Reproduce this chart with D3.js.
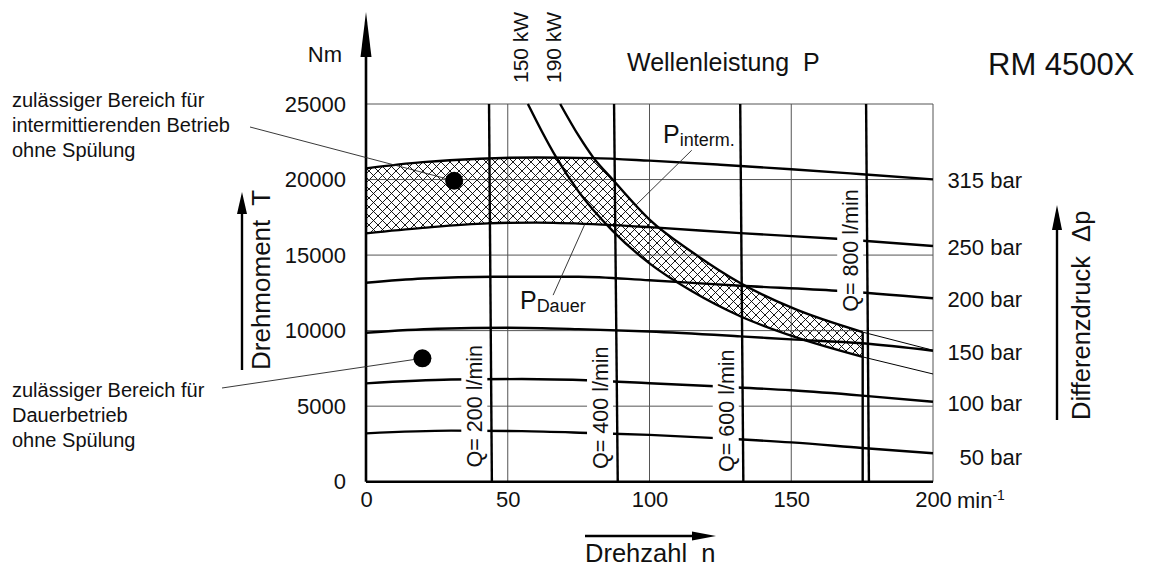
<!DOCTYPE html>
<html>
<head>
<meta charset="utf-8">
<script src="https://cdnjs.cloudflare.com/ajax/libs/d3/7.8.5/d3.min.js"></script>
<style>
  body { margin: 0; background: #fff; }
  text { font-family: "Liberation Sans", Arial, sans-serif; fill: #111; }
</style>
</head>
<body>
<script>
// axis ticks
var nTicks = [0, 50, 100, 150, 200];
var tTicks = [0, 5000, 10000, 15000, 20000, 25000];

// pressure lines, [n (1/min), T (Nm)]
var bar315 = [[0,20740],[20,21150],[40,21380],[60,21460],[80,21420],[100,21250],[125,20980],[150,20680],[175,20350],[200,20010]];
var bar250 = [[0,16440],[20,16800],[43,17100],[60,17150],[80,17050],[100,16850],[132,16450],[166,16080],[200,15600]];
var bar200 = [[0,13170],[20,13450],[45,13570],[75,13570],[100,13330],[132,12970],[166,12640],[200,12140]];
var bar150 = [[0,9860],[25,10120],[50,10190],[75,10100],[100,9940],[132,9620],[150,9420],[175,9160],[200,8670]];
var bar100 = [[0,6510],[30,6760],[55,6800],[80,6700],[100,6520],[125,6300],[150,6050],[175,5700],[200,5290]];
var bar50  = [[0,3200],[30,3380],[55,3350],[80,3220],[100,3100],[125,2870],[150,2600],[175,2230],[200,1880]];
var barLines = [bar315, bar250, bar200, bar150, bar100, bar50];
var barNames = ["315 bar", "250 bar", "200 bar", "150 bar", "100 bar", "50 bar"];

// shaft power curves
var pDauer  = [[57.1,25000],[62,23200],[67,21500],[75,19200],[87,16600],[100,14450],[115,12600],[132,10950],[151,9600],[175.2,8260],[200,7130]];
var pInterm = [[68.5,25000],[75,22900],[80,21500],[87,20000],[100,17350],[115,15200],[132,13150],[151,11450],[175.2,9900],[200,8700]];
var nLimit = 175.2;

// flow lines: n at T = 25000 and at T = 0
var qNames  = ["Q= 200 l/min", "Q= 400 l/min", "Q= 600 l/min", "Q= 800 l/min"];
var qTop    = [43.4, 87.5, 132.0, 176.4];
var qBottom = [44.4, 88.8, 133.1, 177.4];
var qLabelT = [5000, 4900, 4700, 15300];

// marked operating points
var dotN = [31.1, 19.9];
var dotT = [19920, 8170];

var width = 1163, height = 568;

var svg = d3.select('body').append('svg')
  .attr('width', width)
  .attr('height', height);

var x = d3.scaleLinear().domain([0, 200]).range([366, 933]);
var y = d3.scaleLinear().domain([0, 25000]).range([481.7, 104]);

var line = d3.line()
  .x(function(d) { return x(d[0]); })
  .y(function(d) { return y(d[1]); })
  .curve(d3.curveMonotoneX);

var area = d3.area()
  .x(function(d) { return x(d[0]); })
  .y0(y(0))
  .y1(function(d) { return y(d[1]); })
  .curve(d3.curveMonotoneX);

var defs = svg.append('defs');

// cross hatch
var pat = defs.append('pattern')
  .attr('id', 'hatch')
  .attr('patternUnits', 'userSpaceOnUse')
  .attr('width', 9).attr('height', 9);
pat.append('rect').attr('width', 9).attr('height', 9).attr('fill', '#fff');
pat.append('path')
  .attr('d', 'M-1,-1L10,10M10,-1L-1,10')
  .attr('stroke', '#000').attr('stroke-width', 0.9);

// clip: below 315 bar
defs.append('clipPath').attr('id', 'c315')
  .append('path').attr('d', area(bar315));
// clip: below intermittent power (plus everything left of its top)
var cI = defs.append('clipPath').attr('id', 'cInterm');
cI.append('path').attr('d', area(pInterm));
cI.append('rect').attr('x', x(0) - 5).attr('y', 0)
  .attr('width', x(pInterm[0][0]) - x(0) + 8).attr('height', y(0));
// clip: below 250 bar
defs.append('clipPath').attr('id', 'c250')
  .append('path').attr('d', area(bar250));

// hatched region
var hg = svg.append('g').attr('clip-path', 'url(#c315)')
  .append('g').attr('clip-path', 'url(#cInterm)');
hg.append('rect')
  .attr('x', x(0)).attr('y', y(25000))
  .attr('width', x(nLimit) - x(0)).attr('height', y(0) - y(25000))
  .attr('fill', 'url(#hatch)');
var wg = hg.append('g').attr('clip-path', 'url(#c250)');
wg.append('path').attr('d', area(pDauer)).attr('fill', '#fff');
wg.append('rect').attr('x', x(0) - 5).attr('y', 0)
  .attr('width', x(pDauer[0][0]) - x(0) + 10).attr('height', y(0) + 5)
  .attr('fill', '#fff');

// grid
var grid = svg.append('g').attr('stroke', '#555').attr('stroke-width', 1);
grid.selectAll('.gv').data(nTicks.slice(1)).enter().append('line')
  .attr('x1', function(d) { return x(d); }).attr('x2', function(d) { return x(d); })
  .attr('y1', y(0)).attr('y2', y(25000));
grid.selectAll('.gh').data(tTicks.slice(1)).enter().append('line')
  .attr('x1', x(0)).attr('x2', x(200))
  .attr('y1', function(d) { return y(d); }).attr('y2', function(d) { return y(d); });

// pressure lines
svg.append('g').selectAll('path').data(barLines).enter().append('path')
  .attr('d', line)
  .attr('fill', 'none').attr('stroke', '#000').attr('stroke-width', 2.4);

// power curves
[pDauer, pInterm].forEach(function(c) {
  svg.append('path')
    .attr('d', line(c.filter(function(d) { return d[0] <= nLimit; })))
    .attr('fill', 'none').attr('stroke', '#000').attr('stroke-width', 2.4);
  svg.append('path')
    .attr('d', d3.line().x(function(d) { return x(d[0]); }).y(function(d) { return y(d[1]); })
      (c.filter(function(d) { return d[0] >= nLimit; })))
    .attr('fill', 'none').attr('stroke', '#000').attr('stroke-width', 1);
});
// end of the permitted field
svg.append('line')
  .attr('x1', x(nLimit)).attr('x2', x(nLimit))
  .attr('y1', y(pInterm[pInterm.length - 2][1])).attr('y2', y(0))
  .attr('stroke', '#000').attr('stroke-width', 2.4);

// flow labels with white background
qNames.forEach(function(name, i) {
  var nMid = qBottom[i] + (qTop[i] - qBottom[i]) * qLabelT[i] / 25000;
  var g = svg.append('g')
    .attr('transform', 'translate(' + (x(nMid) - 17) + ',' + y(qLabelT[i]) + ') rotate(-90)');
  var bg = g.append('rect').attr('fill', '#fff');
  var t = g.append('text')
    .attr('text-anchor', 'middle').attr('dy', '0.36em')
    .style('font-size', '21.5px')
    .text(name);
  var len = t.node().getComputedTextLength();
  bg.attr('x', -len / 2 - 4).attr('y', -13).attr('width', len + 8).attr('height', 26);
});

// flow lines
svg.append('g').selectAll('line').data(qNames).enter().append('line')
  .attr('x1', function(d, i) { return x(qTop[i]); })
  .attr('y1', y(25000))
  .attr('x2', function(d, i) { return x(qBottom[i]); })
  .attr('y2', y(0))
  .attr('stroke', '#000').attr('stroke-width', 2.4);

// axes lines
svg.append('line')
  .attr('x1', x(0)).attr('x2', x(200)).attr('y1', y(0)).attr('y2', y(0))
  .attr('stroke', '#000').attr('stroke-width', 2.6);
svg.append('line')
  .attr('x1', x(0)).attr('x2', x(0)).attr('y1', y(0)).attr('y2', 40)
  .attr('stroke', '#000').attr('stroke-width', 2.6);
svg.append('path')
  .attr('d', 'M' + x(0) + ',12L' + (x(0) - 5.5) + ',57L' + (x(0) + 5.5) + ',57Z')
  .attr('fill', '#000');

// tick labels
var yAxis = svg.append('g')
  .attr('transform', 'translate(' + x(0) + ',0)')
  .call(d3.axisLeft(y).tickValues(tTicks).tickSize(0).tickPadding(20).tickFormat(d3.format('d')));
var xAxis = svg.append('g')
  .attr('transform', 'translate(0,' + y(0) + ')')
  .call(d3.axisBottom(x).tickValues(nTicks).tickSize(0).tickPadding(10).tickFormat(d3.format('d')));
[yAxis, xAxis].forEach(function(a) {
  a.select('.domain').remove();
  a.selectAll('text').style('font-size', '22px').attr('fill', '#111')
    .style('font-family', '"Liberation Sans", Arial, sans-serif');
});

var unit = svg.append('text')
  .attr('x', x(200) + 24).attr('y', y(0) + 26)
  .style('font-size', '22px');
unit.append('tspan').text('min');
unit.append('tspan').attr('dy', -8).style('font-size', '14px').text('-1');

svg.append('text').attr('x', 342).attr('y', 62)
  .attr('text-anchor', 'end').style('font-size', '22px').text('Nm');

// pressure names at the right end of each line
svg.append('g').selectAll('text').data(barNames).enter().append('text')
  .attr('x', 1022)
  .attr('y', function(d, i) { var c = barLines[i]; return y(c[c.length - 1][1]) + (i === 5 ? 4 : 1); })
  .attr('dy', '0.36em')
  .attr('text-anchor', 'end')
  .style('font-size', '22px')
  .text(function(d) { return d; });

// power names at the top
[["150 kW", 57.1], ["190 kW", 68.5]].forEach(function(p) {
  svg.append('text')
    .attr('transform', 'translate(' + (x(p[1]) - 7) + ',83) rotate(-90)')
    .attr('dy', '0.36em')
    .style('font-size', '21px')
    .text(p[0]);
});

svg.append('text').attr('x', 627).attr('y', 71)
  .style('font-size', '25px').text('Wellenleistung\u00a0 P');
svg.append('text').attr('x', 988).attr('y', 75)
  .style('font-size', '31px').text('RM 4500X');

// axis titles with arrows
svg.append('text')
  .attr('transform', 'translate(261,370) rotate(-90)')
  .attr('dy', '0.36em').style('font-size', '26px')
  .text('Drehmoment\u00a0 T');
svg.append('line').attr('x1', 242).attr('x2', 242).attr('y1', 370).attr('y2', 205)
  .attr('stroke', '#000').attr('stroke-width', 2.4);
svg.append('path').attr('d', 'M242,192L237,214L247,214Z').attr('fill', '#000');

svg.append('text')
  .attr('transform', 'translate(1081,420) rotate(-90)')
  .attr('dy', '0.36em').style('font-size', '25.5px')
  .text('Differenzdruck\u00a0 \u0394p');
svg.append('line').attr('x1', 1057).attr('x2', 1057).attr('y1', 420).attr('y2', 220)
  .attr('stroke', '#000').attr('stroke-width', 2.4);
svg.append('path').attr('d', 'M1057,205L1052,230L1062,230Z').attr('fill', '#000');

svg.append('line').attr('x1', 585).attr('x2', 700).attr('y1', 536).attr('y2', 536)
  .attr('stroke', '#000').attr('stroke-width', 2.4);
svg.append('path').attr('d', 'M716,536L692,531.5L692,540.5Z').attr('fill', '#000');
svg.append('text').attr('x', 585).attr('y', 562)
  .style('font-size', '25.5px').text('Drehzahl\u00a0 n');

// P labels with leader lines
function pLabel(n, t, main, sub) {
  var tx = svg.append('text').attr('x', x(n)).attr('y', y(t)).style('font-size', '25px');
  tx.append('tspan').text(main);
  tx.append('tspan').attr('dy', 3).style('font-size', '18px').text(sub);
}
pLabel(104.8, 22400, 'P', 'interm.');
pLabel(54.3, 11400, 'P', 'Dauer');
svg.append('line').attr('x1', x(114.9)).attr('y1', y(21940)).attr('x2', x(94.9)).attr('y2', y(18250))
  .attr('stroke', '#222').attr('stroke-width', 0.9);
svg.append('line').attr('x1', x(66)).attr('y1', y(12350)).attr('x2', x(77.2)).attr('y2', y(17050))
  .attr('stroke', '#222').attr('stroke-width', 0.9);

// operating points and their notes
var notes = [
  { lines: ['zulässiger Bereich für', 'intermittierenden Betrieb', 'ohne Spülung'], y: 107, lx: 250, ly: 127 },
  { lines: ['zulässiger Bereich für', 'Dauerbetrieb', 'ohne Spülung'], y: 397, lx: 222, ly: 388 }
];
notes.forEach(function(nt, i) {
  svg.append('line')
    .attr('x1', nt.lx).attr('y1', nt.ly)
    .attr('x2', x(dotN[i])).attr('y2', y(dotT[i]))
    .attr('stroke', '#222').attr('stroke-width', 0.9);
  var t = svg.append('text').attr('x', 12).attr('y', nt.y).style('font-size', '20px');
  nt.lines.forEach(function(s, k) {
    t.append('tspan').attr('x', 12).attr('dy', k === 0 ? 0 : 25).text(s);
  });
});
svg.append('g').selectAll('circle').data(dotN).enter().append('circle')
  .attr('cx', function(d) { return x(d); })
  .attr('cy', function(d, i) { return y(dotT[i]); })
  .attr('r', 9)
  .attr('fill', '#000');
</script>
</body>
</html>
